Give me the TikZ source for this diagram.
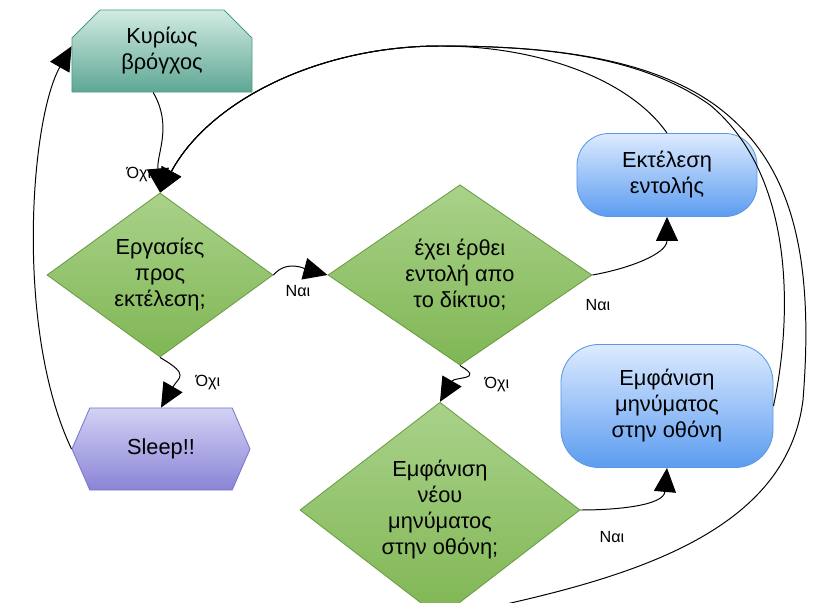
\documentclass[tikz,border=0pt]{standalone}
\usepackage{fontspec}
\setmainfont{Liberation Sans}
\usetikzlibrary{shapes.geometric,shapes.misc,shapes.symbols,arrows.meta}

\definecolor{tealtop}{HTML}{D2EBE3}
\definecolor{tealbot}{HTML}{5EA794}
\definecolor{tealline}{HTML}{4E9A86}
\definecolor{greentop}{HTML}{A9D28A}
\definecolor{greenbot}{HTML}{80B654}
\definecolor{greenline}{HTML}{6B9C45}
\definecolor{purptop}{HTML}{D2D2F4}
\definecolor{purpbot}{HTML}{8A84D6}
\definecolor{purpline}{HTML}{7C76C8}
\definecolor{bluetop}{HTML}{DDEBFF}
\definecolor{bluebot}{HTML}{5C9CF0}
\definecolor{blueline}{HTML}{5A98E2}

\tikzset{
  box/.style={font=\fontsize{15.5}{18.5}\selectfont, align=center, inner sep=0pt, line width=0.6pt},
  loopbox/.style={box, chamfered rectangle, chamfered rectangle corners={north west, north east},
    chamfered rectangle xsep=0.575cm, draw=tealline, top color=tealtop, bottom color=tealbot},
  decision/.style={box, diamond, draw=greenline, top color=greentop, bottom color=greenbot},
  sleepbox/.style={box, signal, signal to=west and east, signal pointer angle=133,
    draw=purpline, top color=purptop, bottom color=purpbot},
  action/.style={box, rectangle, draw=blueline, top color=bluetop, bottom color=bluebot},
  lbl/.style={font=\fontsize{11.5}{13}\selectfont, inner sep=0pt},
  arr/.style={-{Triangle[length=0.6cm,width=0.55cm]}, line width=0.7pt},
}

\begin{document}
\begin{tikzpicture}[x=0.025cm, y=-0.025cm]
    \useasboundingbox (0,0) rectangle (816,603);

    % Κόμβοι
    \node[loopbox, minimum width=4.5cm, minimum height=2.05cm] (main) at (162,51) {Κυρίως\\βρόγχος};
    \node[decision, minimum width=5.65cm, minimum height=4.1cm] (tasks) at (160,275) {Εργασίες\\προς\\εκτέλεση;};
    \node[decision, minimum width=6.6cm, minimum height=4.1cm] (cmd) at (460,275) {έχει έρθει\\εντολή απο\\το δίκτυο;};
    \node[decision, minimum width=7cm, minimum height=4.6cm] (newmsg) at (440,510) {Εμφάνιση\\νέου\\μηνύματος\\στην οθόνη;};
    \node[sleepbox, minimum width=4.45cm, minimum height=2.05cm] (sleep) at (161,449) {Sleep!!};
    \node[action, rounded corners=0.8cm, minimum width=4.5cm, minimum height=2.075cm] (exec) at (667,175) {Εκτέλεση\\εντολής};
    \node[action, rounded corners=0.95cm, minimum width=5.3cm, minimum height=3.075cm] (disp) at (667,406) {Εμφάνιση\\μηνύματος\\στην οθόνη};

    % Βέλη
    \draw[arr] (main.258) to[out=-60,in=95] (tasks.north);
    \draw[arr] (tasks.east) to[out=50,in=165] (cmd.west);
    \draw[arr] (tasks.south) to[out=-30,in=60,looseness=1.8] (sleep.north);
    \draw[arr] (sleep.west) .. controls (15,330) and (30,120) .. (main.177);
    \draw[arr] (cmd.east) to[out=10,in=-90] (exec.south);
    \draw[arr] (cmd.south) to[out=-30,in=60,looseness=1.8] (newmsg.north);
    \draw[arr] (newmsg.east) to[out=0,in=-95] (disp.south);

    % Επιστροφές στην αρχή
    \coordinate (top) at (440,46);
    \draw[arr] (exec.north) .. controls (630,80) and (540,46) .. (top) .. controls (320,46) and (210,100) .. (tasks.north);
    \draw[arr] (disp.east) .. controls (790,330) and (800,180) .. (710,105) .. controls (640,55) and (540,46) .. (top) .. controls (320,46) and (210,100) .. (tasks.north);
    \draw[arr] (newmsg.south) .. controls (600,585) and (785,545) .. (803,400) .. controls (815,250) and (790,160) .. (715,105) .. controls (645,55) and (540,46) .. (top) .. controls (320,46) and (210,100) .. (tasks.north);

    % Ετικέτες
    \node[lbl] (l1) at (139,175) {Όχι};
    \node[lbl] (l2) at (298,291) {Ναι};
    \node[lbl] (l3) at (208,383) {Όχι};
    \node[lbl] (l4) at (598,305) {Ναι};
    \node[lbl] (l5) at (497,385) {Όχι};
    \node[lbl] (l6) at (612,537) {Ναι};
\end{tikzpicture}
\end{document}
